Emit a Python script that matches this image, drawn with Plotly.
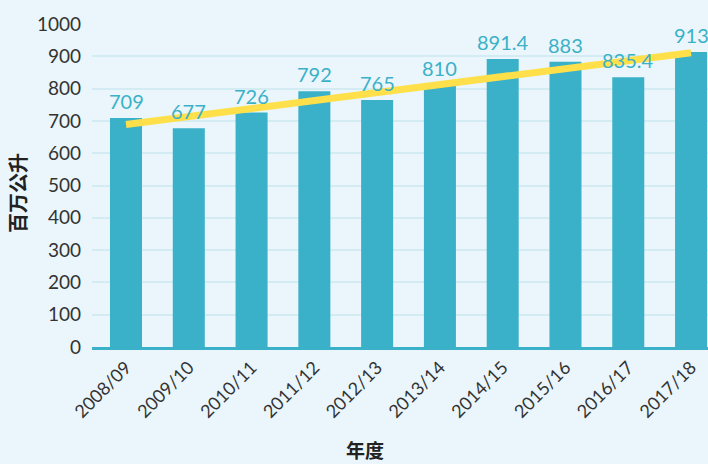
import numpy as np
import plotly.graph_objects as go

categories = ["2008/09", "2009/10", "2010/11", "2011/12", "2012/13",
              "2013/14", "2014/15", "2015/16", "2016/17", "2017/18"]
values = [709, 677, 726, 792, 765, 810, 891.4, 883, 835.4, 913]
labels = ["709", "677", "726", "792", "765", "810", "891.4", "883", "835.4", "913"]
y_ticks = [0, 100, 200, 300, 400, 500, 600, 700, 800, 900, 1000]

x = np.arange(len(categories))
slope, intercept = np.polyfit(x, values, 1)
trend = slope * x + intercept

BAR = "#3AB1C8"
BG = "#EAF6FB"
FONT = "Lato, 'Open Sans', sans-serif"

fig = go.Figure()
fig.add_trace(go.Bar(
    x=x, y=values, width=0.51, marker=dict(color=BAR, line=dict(width=0)),
    showlegend=False, hoverinfo="skip",
))
fig.add_trace(go.Scatter(
    x=[x[0], x[-1]], y=[trend[0], trend[-1]], mode="lines",
    line=dict(color="#FFE04B", width=7), showlegend=False, cliponaxis=False,
    hoverinfo="skip",
))

pw = 708 - 92 - 0
ph = 464 - 24 - 117


def px_to_paper(px, py):
    return (px - 92) / pw, (464 - 117 - py) / ph


annotations = []
for xi, v, lab in zip(x, values, labels):
    annotations.append(dict(
        x=xi, y=v, xref="x", yref="y", text=lab, showarrow=False,
        yanchor="bottom", xanchor="center", yshift=3,
        font=dict(color=BAR, size=20, family=FONT),
    ))

ax, ay = px_to_paper(17, 193)
annotations.append(dict(text="<b>百万公升</b>", x=ax, y=ay, xref="paper", yref="paper",
                        showarrow=False, textangle=-90, xanchor="center", yanchor="middle",
                        font=dict(size=20, family="Noto Sans CJK SC", color="#222222")))
bx, by = px_to_paper(365, 449)
annotations.append(dict(text="<b>年度</b>", x=bx, y=by, xref="paper", yref="paper",
                        showarrow=False, xanchor="center", yanchor="middle",
                        font=dict(size=19, family="Noto Sans CJK SC", color="#222222")))

fig.update_layout(
    width=708, height=464,
    margin=dict(l=92, r=0, t=24, b=117),
    paper_bgcolor=BG, plot_bgcolor=BG,
    font=dict(family=FONT, color="#333333"),
    xaxis=dict(
        range=[-0.5416, 9.27], tickmode="array", tickvals=list(x), ticktext=categories,
        tickangle=-45, tickfont=dict(size=18, color="#333333"),
        showgrid=False, showline=True, linecolor=BAR, linewidth=3, ticks="",
        zeroline=False,
    ),
    yaxis=dict(
        range=[0, 1000], tickmode="array", tickvals=y_ticks,
        tickfont=dict(size=19, color="#333333"), ticklabelstandoff=10,
        showgrid=True, gridcolor="#D3ECF3", gridwidth=2, zeroline=False,
        showline=False, ticks="",
    ),
    annotations=annotations,
)

fig.write_html(
    "out.html",
    config={"displayModeBar": False},
    post_script="document.body.style.margin='0';document.body.style.overflow='hidden';",
)
